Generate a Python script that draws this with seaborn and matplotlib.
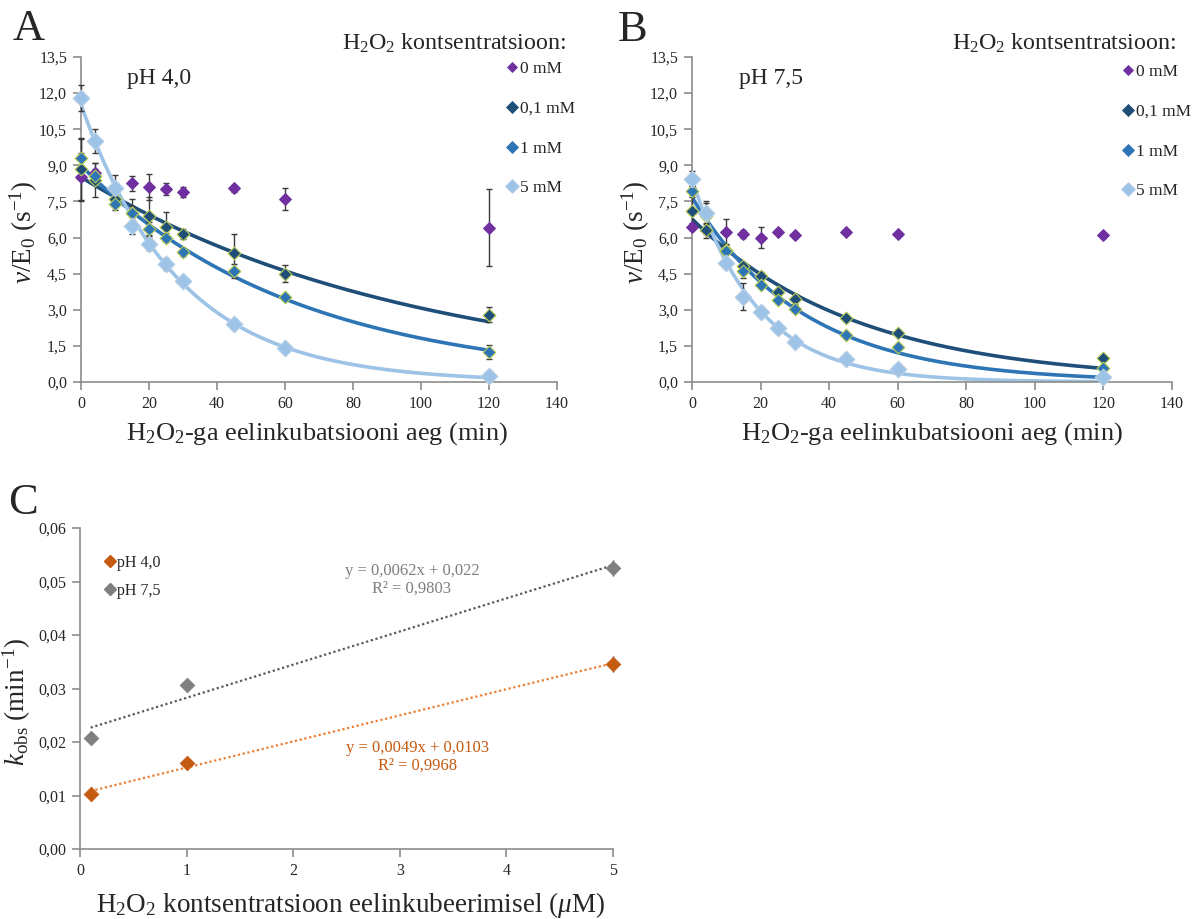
import numpy as np
import pandas as pd
import matplotlib
matplotlib.use("Agg")
import matplotlib.pyplot as plt
from matplotlib.lines import Line2D
from matplotlib.ticker import FuncFormatter, MultipleLocator
import seaborn as sns

# ---------------- data ----------------
times = [0, 4, 10, 15, 20, 25, 30, 45, 60, 120]
conc_labels = ["0 mM", "0,1 mM", "1 mM", "5 mM"]

# pH 4,0 (panel A)
a_0 = [8.5, 8.7, 8.1, 8.25, 8.1, 8.0, 7.9, 8.05, 7.6, 6.4]
a_01 = [8.85, 8.4, 7.6, 7.0, 6.9, 6.45, 6.15, 5.35, 4.5, 2.8]
a_1 = [9.3, 8.55, 7.4, 7.0, 6.35, 6.0, 5.4, 4.6, 3.55, 1.25]
a_5 = [11.8, 10.0, 8.05, 6.5, 5.75, 4.9, 4.2, 2.4, 1.4, 0.25]
a_0_err = [1.0, 0.4, 0.5, 0.3, 0.55, 0.25, 0.2, 0.15, 0.45, 1.6]
a_01_err = [1.3, 0.7, 0.3, 0.6, 0.8, 0.6, 0.2, 0.8, 0.35, 0.3]
a_1_err = [0.8, 0.3, 0.25, 0.3, 0.3, 0.2, 0.15, 0.3, 0.1, 0.3]
a_5_err = [0.55, 0.5, 0.2, 0.35, 0.25, 0.25, 0.1, 0.2, 0.1, 0.05]

# pH 7,5 (panel B)
b_0 = [6.45, 6.3, 6.25, 6.15, 6.0, 6.25, 6.1, 6.25, 6.15, 6.1]
b_01 = [7.1, 6.3, 5.5, 4.8, 4.4, 3.75, 3.45, 2.65, 2.05, 1.0]
b_1 = [7.95, 6.9, 5.45, 4.6, 4.05, 3.4, 3.05, 1.95, 1.45, 0.6]
b_5 = [8.45, 7.0, 4.95, 3.55, 2.9, 2.25, 1.65, 0.95, 0.55, 0.2]
b_0_err = [0.15, 0.15, 0.5, 0.15, 0.45, 0.1, 0.1, 0.1, 0.1, 0.1]
b_01_err = [0.6, 0.3, 0.2, 0.2, 0.15, 0.1, 0.2, 0.1, 0.1, 0.05]
b_1_err = [0.2, 0.6, 0.15, 0.3, 0.1, 0.1, 0.1, 0.1, 0.1, 0.05]
b_5_err = [0.3, 0.45, 0.15, 0.55, 0.2, 0.1, 0.1, 0.05, 0.05, 0.05]

# panel C
c_conc = [0.1, 1, 5]
k_ph4 = [0.0102, 0.0160, 0.0346]
k_ph7 = [0.0207, 0.0307, 0.0526]
k_ph4_err = [0.0013, 0.0010, 0.0015]
k_ph7_err = [0.0004, 0.0004, 0.0015]

# ---------------- style ----------------
sns.set_theme(style="white")
plt.rcParams["font.family"] = ["Liberation Serif", "DejaVu Serif"]
plt.rcParams["mathtext.fontset"] = "custom"
plt.rcParams["mathtext.rm"] = "Liberation Serif"
plt.rcParams["mathtext.it"] = "Liberation Serif:italic"
plt.rcParams["mathtext.bf"] = "Liberation Serif:bold"

SPINE = "#8c8c8c"
PURPLE = "#7030A0"
NAVY = "#1F4E79"
MID = "#2E75B6"
LIGHT = "#9DC3E6"
EDGE_G = "#b8cc55"
ERR = "#3a3a3a"
ORANGE = "#C55A11"
ORANGE_L = "#ED7D31"
GREY = "#7F7F7F"
GREY_D = "#595959"

fig = plt.figure(figsize=(11.92, 9.19), dpi=100)
W, H = 1192, 919


def axes_px(l, t, r, b):
    return fig.add_axes([l / W, 1 - b / H, (r - l) / W, (b - t) / H])


def comma(dec):
    return FuncFormatter(lambda v, p: f"{v:.{dec}f}".replace(".", ","))


def style_axes(ax):
    for s in ["top", "right"]:
        ax.spines[s].set_visible(False)
    for s in ["left", "bottom"]:
        ax.spines[s].set_color(SPINE)
        ax.spines[s].set_linewidth(1.2)
    ax.tick_params(axis="both", which="major", direction="out", length=6,
                   width=1.2, color=SPINE, labelsize=11.5, pad=4,
                   bottom=True, left=True)
    ax.grid(False)
    ax.set_facecolor("white")


series_style = [
    dict(color=PURPLE, ec=PURPLE, ms=6.0),
    dict(color=NAVY, ec=EDGE_G, ms=6.5),
    dict(color=MID, ec=EDGE_G, ms=6.5),
    dict(color=LIGHT, ec="#b9cfe6", ms=8.5),
]
curve_colors = [None, NAVY, MID, LIGHT]


def kinetic_panel(ax, ys, errs, kvals, ph_text):
    style_axes(ax)
    t = np.array(times, dtype=float)
    tt = np.linspace(0, 120, 300)
    rows = []
    # fitted exponential decays, amplitude fitted by least squares, k from panel C
    for i in range(1, 4):
        y = np.array(ys[i])
        e = np.exp(-kvals[i - 1] * t)
        amp = np.sum(y * e) / np.sum(e * e)
        for x_, v_ in zip(tt, amp * np.exp(-kvals[i - 1] * tt)):
            rows.append(dict(t=x_, v=v_, s=conc_labels[i]))
    curves = pd.DataFrame(rows)
    sns.lineplot(data=curves, x="t", y="v", hue="s",
                 palette={conc_labels[i]: curve_colors[i] for i in range(1, 4)},
                 linewidth=2.6, ax=ax, legend=False, zorder=2)
    for i in range(4):
        ax.errorbar(times, ys[i], yerr=errs[i], fmt="none", ecolor=ERR,
                    elinewidth=1.0, capsize=2, capthick=1.0, zorder=3,
                    clip_on=False)
    for i in range(4):
        st = series_style[i]
        df = pd.DataFrame(dict(t=times, v=ys[i]))
        sns.scatterplot(data=df, x="t", y="v", marker="D",
                        s=st["ms"] ** 2, color=st["color"],
                        edgecolor=st["ec"], linewidth=0.8, ax=ax,
                        zorder=4, clip_on=False, legend=False)
    ax.set_xlim(0, 140)
    ax.set_ylim(0, 13.5)
    ax.xaxis.set_major_locator(MultipleLocator(20))
    ax.yaxis.set_major_locator(MultipleLocator(1.5))
    ax.xaxis.set_major_formatter(FuncFormatter(lambda v, p: f"{v:.0f}"))
    ax.yaxis.set_major_formatter(comma(1))
    ax.set_ylabel(r"$\nu$/E$_0$ (s$^{-1}$)", fontsize=19.5)
    ax.set_xlabel(r"H$_2$O$_2$-ga eelinkubatsiooni aeg (min)", fontsize=19)
    ax.text(0.097, 0.965, ph_text, transform=ax.transAxes, fontsize=17,
            va="top", ha="left")


axA = axes_px(81, 57, 557, 382)
axB = axes_px(692, 57, 1172, 382)
axC = axes_px(80, 528, 613, 849)

kinetic_panel(axA, [a_0, a_01, a_1, a_5], [a_0_err, a_01_err, a_1_err, a_5_err],
              k_ph4, "pH 4,0")
kinetic_panel(axB, [b_0, b_01, b_1, b_5], [b_0_err, b_01_err, b_1_err, b_5_err],
              k_ph7, "pH 7,5")
axA.yaxis.set_label_coords(-0.086, 0.46)
axB.yaxis.set_label_coords(-0.083, 0.46)
axA.xaxis.set_label_coords(0.496, -0.118)
axB.xaxis.set_label_coords(0.5, -0.118)


# legends A / B
def conc_legend(x_px, y_px, title_right_px):
    handles = []
    for i in range(4):
        st = series_style[i]
        handles.append(Line2D([], [], marker="D", linestyle="none",
                              markersize=st["ms"] * (0.8 if i == 3 else 0.9),
                              markerfacecolor=st["color"],
                              markeredgecolor=st["color"] if i != 3 else "#b9cfe6",
                              markeredgewidth=0.6))
    fig.legend(handles, conc_labels, loc="upper left",
               bbox_to_anchor=(x_px / W, 1 - y_px / H), frameon=False,
               fontsize=12.5, handlelength=0.6, handletextpad=0.15,
               labelspacing=1.36, borderpad=0, borderaxespad=0)
    fig.text(title_right_px / W, 1 - 43 / H,
             r"H$_2$O$_2$ kontsentratsioon:", fontsize=17.3,
             ha="right", va="center")


conc_legend(507, 61, 566)
conc_legend(1123, 64, 1176)

# panel letters
fig.text(13 / W, 1 - 29 / H, "A", fontsize=32, ha="left", va="center")
fig.text(618 / W, 1 - 30 / H, "B", fontsize=32, ha="left", va="center")
fig.text(8 / W, 1 - 503 / H, "C", fontsize=32, ha="left", va="center")

# ---------------- panel C ----------------
style_axes(axC)
cx = np.array(c_conc)
xx = np.linspace(min(c_conc), max(c_conc), 50)
p4 = np.polyfit(cx, k_ph4, 1)
p7 = np.polyfit(cx, k_ph7, 1)
trend7 = pd.DataFrame(dict(x=xx, y=np.polyval(p7, xx)))
trend4 = pd.DataFrame(dict(x=xx, y=np.polyval(p4, xx)))
sns.lineplot(data=trend7, x="x", y="y", color=GREY_D,
             linestyle=(0, (1, 1.2)), linewidth=1.6, ax=axC, legend=False)
sns.lineplot(data=trend4, x="x", y="y", color=ORANGE_L,
             linestyle=(0, (1, 1.2)), linewidth=1.6, ax=axC, legend=False)
axC.errorbar(c_conc, k_ph4, yerr=k_ph4_err, fmt="none", ecolor=ERR,
             elinewidth=1.0, capsize=0, zorder=3, clip_on=False)
axC.errorbar(c_conc, k_ph7, yerr=k_ph7_err, fmt="none", ecolor=ERR,
             elinewidth=1.0, capsize=0, zorder=3, clip_on=False)
sns.scatterplot(x=c_conc, y=k_ph4, marker="D", s=55, color=ORANGE,
                edgecolor=ORANGE, ax=axC, zorder=4, legend=False, clip_on=False)
sns.scatterplot(x=c_conc, y=k_ph7, marker="D", s=55, color=GREY,
                edgecolor=GREY, ax=axC, zorder=4, legend=False, clip_on=False)
axC.set_xlim(0, 5)
axC.set_ylim(0, 0.06)
axC.xaxis.set_major_locator(MultipleLocator(1))
axC.yaxis.set_major_locator(MultipleLocator(0.01))
axC.xaxis.set_major_formatter(FuncFormatter(lambda v, p: f"{v:.0f}"))
axC.yaxis.set_major_formatter(comma(2))
axC.set_ylabel(r"$k_{\mathrm{obs}}$ (min$^{-1}$)", fontsize=19.5)
axC.set_xlabel(r"H$_2$O$_2$ kontsentratsioon eelinkubeerimisel ($\mu$M)",
               fontsize=19.5)
axC.yaxis.set_label_coords(-0.088, 0.458)
axC.xaxis.set_label_coords(0.507, -0.128)

hC = [Line2D([], [], marker="D", linestyle="none", markersize=6,
             markerfacecolor=c, markeredgecolor=c) for c in (ORANGE, GREY)]
fig.legend(hC, ["pH 4,0", "pH 7,5"], loc="upper left",
           bbox_to_anchor=(105 / W, 1 - 555 / H), frameon=False, fontsize=11.5,
           handlelength=0.6, handletextpad=0.15, labelspacing=0.75,
           borderpad=0, borderaxespad=0)

eq7 = f"y = {p7[0]:.4f}x + {p7[1]:.3f}".replace(".", ",")
eq4 = f"y = {p4[0]:.4f}x + {p4[1]:.4f}".replace(".", ",")
fig.text(412 / W, 1 - 571 / H, eq7, color=GREY, fontsize=12, ha="center", va="center")
fig.text(412 / W, 1 - 589 / H, "R² = 0,9803", color=GREY, fontsize=12, ha="center", va="center")
fig.text(418 / W, 1 - 748 / H, eq4, color=ORANGE, fontsize=12, ha="center", va="center")
fig.text(418 / W, 1 - 766 / H, "R² = 0,9968", color=ORANGE, fontsize=12, ha="center", va="center")

fig.savefig("out.png", dpi=100, facecolor="white")
